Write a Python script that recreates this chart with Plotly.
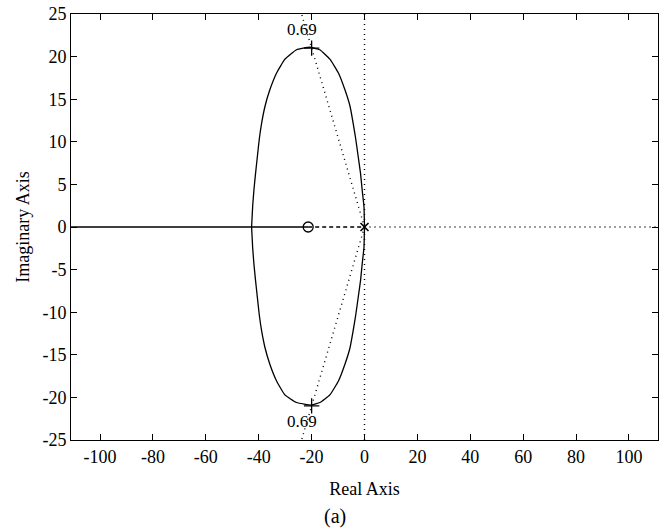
import plotly.graph_objects as go

# Upper locus branch (pole at origin -> over the top -> break-in point)
upper_re = [0.0, -0.2, -0.9, -1.5, -2.4, -3.3, -4.3, -5.5, -7.4, -9.9, -13.1, -16.9, -20.6,
            -25.7, -30.1, -33.2, -35.8, -37.6, -38.9, -39.8, -40.5, -41.2, -41.8, -42.3, -42.7]
upper_im = [0.0, 2.4, 4.4, 6.3, 8.3, 10.3, 12.2, 14.2, 16.1, 18.1, 19.7, 20.8, 21.1,
            20.8, 19.7, 18.1, 16.1, 14.2, 12.2, 10.3, 8.3, 6.3, 4.4, 2.4, 0.0]
# Lower locus branch
lower_re = [0.0, -0.2, -0.9, -1.5, -2.4, -3.3, -4.3, -5.5, -7.4, -9.9, -13.1, -16.9, -20.0,
            -25.7, -30.1, -33.2, -35.8, -37.6, -38.9, -39.8, -40.5, -41.2, -41.8, -42.3, -42.7]
lower_im = [0.0, -2.4, -4.4, -6.3, -8.3, -10.3, -12.2, -14.2, -16.1, -18.1, -19.7, -20.6, -20.9,
            -20.6, -19.7, -18.1, -16.1, -14.2, -12.2, -10.3, -8.3, -6.3, -4.4, -2.4, 0.0]
# Real-axis segments
real_solid_re = [-111, -21.3]
real_dash_re = [-21.3, 0]
# Damping lines (zeta = 0.69)
damp_up_re = [0, -23.8]
damp_up_im = [0, 25]
damp_dn_re = [0, -23.8]
damp_dn_im = [0, -25]
# Markers
pole_re, pole_im = [0], [0]
zero_re, zero_im = [-21.3], [0]
sel_re, sel_im = [-20, -20], [21, -21]
lbl_re, lbl_im, lbl_txt = [-23.7, -23.7], [23.0, -23.0], ["0.69", "0.69"]

xticks = [-100, -80, -60, -40, -20, 0, 20, 40, 60, 80, 100]
yticks = [-25, -20, -15, -10, -5, 0, 5, 10, 15, 20, 25]

fig = go.Figure()
dot = dict(color="black", width=1.4, dash="1px,4px")
fig.add_trace(go.Scatter(x=[0, 0], y=[-25, 25], mode="lines", line=dot))
fig.add_trace(go.Scatter(x=[0, 111], y=[0, 0], mode="lines", line=dot))
fig.add_trace(go.Scatter(x=damp_up_re, y=damp_up_im, mode="lines", line=dot))
fig.add_trace(go.Scatter(x=damp_dn_re, y=damp_dn_im, mode="lines", line=dot))
solid = dict(color="black", width=1.3, shape="spline", smoothing=0.4)
fig.add_trace(go.Scatter(x=upper_re, y=upper_im, mode="lines", line=solid))
fig.add_trace(go.Scatter(x=lower_re, y=lower_im, mode="lines", line=solid))
fig.add_trace(go.Scatter(x=real_solid_re, y=[0, 0], mode="lines", line=dict(color="black", width=1.3)))
fig.add_trace(go.Scatter(x=real_dash_re, y=[0, 0], mode="lines",
                         line=dict(color="black", width=1.5, dash="4px,3px")))
fig.add_trace(go.Scatter(x=zero_re, y=zero_im, mode="markers",
                         marker=dict(symbol="circle-open", size=10, color="black", line=dict(width=1.3))))
fig.add_trace(go.Scatter(x=pole_re, y=pole_im, mode="markers",
                         marker=dict(symbol="x-thin-open", size=8, color="black", line=dict(width=1.6))))
fig.add_trace(go.Scatter(x=sel_re, y=sel_im, mode="markers",
                         marker=dict(symbol="cross-thin-open", size=11, color="black", line=dict(width=1.3))))
fig.add_trace(go.Scatter(x=lbl_re, y=lbl_im, mode="text", text=lbl_txt,
                         textfont=dict(family="Liberation Serif", size=17, color="black")))

axis_common = dict(showline=True, linecolor="black", linewidth=1, mirror="ticks",
                   ticks="inside", ticklen=6, tickcolor="black", showgrid=False, zeroline=False,
                   tickfont=dict(family="Liberation Serif", size=18, color="black"))
fig.update_xaxes(range=[-111, 111], tickvals=xticks, ticktext=[str(v) for v in xticks],
                 title=dict(text="Real Axis", font=dict(family="Liberation Serif", size=18, color="black"), standoff=16),
                 **axis_common)
fig.update_yaxes(range=[-25, 25], tickvals=yticks, ticktext=[str(v) for v in yticks],
                 title=dict(text="Imaginary Axis", font=dict(family="Liberation Serif", size=18, color="black"), standoff=8),
                 **axis_common)
fig.add_annotation(text="(a)", xref="paper", yref="paper", x=0.45, y=0, yanchor="top",
                   yshift=-63, showarrow=False, font=dict(family="Liberation Serif", size=20, color="black"))
fig.update_layout(width=662, height=529, margin=dict(l=71, r=4, t=14, b=89),
                  plot_bgcolor="white", paper_bgcolor="white", showlegend=False)
fig.write_html("out.html")
